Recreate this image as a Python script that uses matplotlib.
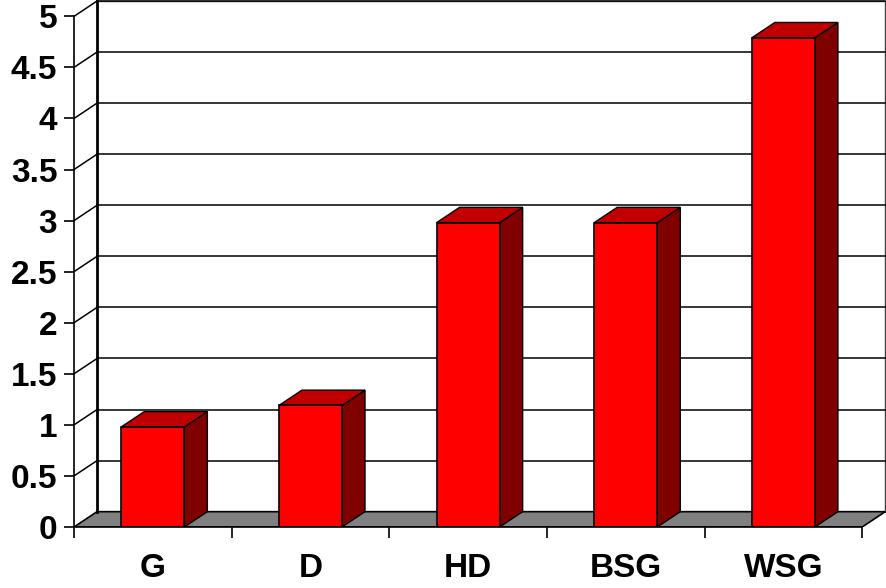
import matplotlib
matplotlib.use("Agg")
import matplotlib.pyplot as plt
from matplotlib.patches import Polygon

plt.rcParams['font.family'] = ['Liberation Sans', 'DejaVu Sans']

# data
categories = ["G", "D", "HD", "BSG", "WSG"]
values = [0.98, 1.19, 2.98, 2.98, 4.79]
y_ticks = [0, 0.5, 1, 1.5, 2, 2.5, 3, 3.5, 4, 4.5, 5]
y_labels = ["0", "0.5", "1", "1.5", "2", "2.5", "3", "3.5", "4", "4.5", "5"]

# depth offsets for the fake 3D look (data units)
DX = 0.146
DY = 0.15
n = len(categories)
ymax = 5
bar_w = 0.4

fig = plt.figure(figsize=(8.87, 5.88), dpi=100)
ax = fig.add_axes([74 / 887, 61 / 588, 812 / 887, 527 / 588])
ax.set_xlim(0, n + DX + 0.005)
ax.set_ylim(0, ymax + DY + 0.01)

# back wall
ax.add_patch(Polygon([(DX, DY), (n + DX, DY), (n + DX, ymax + DY), (DX, ymax + DY)],
                     closed=True, facecolor="white", edgecolor="none", zorder=0))
ax.plot([n + DX, n + DX], [DY, ymax + DY], color="#404040", lw=1, zorder=1, clip_on=False)
ax.plot([DX, n + DX], [ymax + DY, ymax + DY], color="#404040", lw=1, zorder=1, clip_on=False)
ax.plot([DX, DX], [DY, ymax + DY], color="black", lw=2, zorder=3, clip_on=False)

# gridlines on back wall + left wall
for v in y_ticks[1:]:
    ax.plot([DX, n + DX], [v + DY, v + DY], color="black", lw=1.1, zorder=1, clip_on=False)
    ax.plot([0, DX], [v, v + DY], color="black", lw=1.1, zorder=1, clip_on=False)

# floor
ax.add_patch(Polygon([(0, 0), (n, 0), (n + DX, DY), (DX, DY)], closed=True,
                     facecolor="#808080", edgecolor="black", lw=1.2, zorder=2))

# bars
for i, v in enumerate(values):
    c = i + 0.5
    x0, x1 = c - bar_w / 2, c + bar_w / 2
    side = [(x1, 0), (x1 + DX, DY), (x1 + DX, v + DY), (x1, v)]
    top = [(x0, v), (x1, v), (x1 + DX, v + DY), (x0 + DX, v + DY)]
    front = [(x0, 0), (x1, 0), (x1, v), (x0, v)]
    ax.add_patch(Polygon(side, closed=True, facecolor="#800000", edgecolor="black", lw=1, zorder=4))
    ax.add_patch(Polygon(top, closed=True, facecolor="#C00000", edgecolor="black", lw=1, zorder=4))
    ax.add_patch(Polygon(front, closed=True, facecolor="#FF0000", edgecolor="black", lw=1.2, zorder=5))

# axes
for s in ["top", "right"]:
    ax.spines[s].set_visible(False)
ax.spines["left"].set_bounds(0, ymax)
ax.spines["bottom"].set_bounds(0, n)
ax.spines["left"].set_linewidth(1.2)
ax.spines["bottom"].set_linewidth(1.2)
ax.spines["left"].set_zorder(6)
ax.spines["bottom"].set_zorder(6)

ax.set_yticks(y_ticks)
ax.set_yticklabels(y_labels, fontsize=24, fontweight="bold")
ax.tick_params(axis="y", length=7, width=1.2, pad=5)

ax.set_xticks(range(n + 1))
ax.set_xticklabels([])
ax.set_xticks([i + 0.5 for i in range(n)], minor=True)
ax.set_xticklabels(categories, minor=True, fontsize=24, fontweight="bold")
ax.tick_params(axis="x", which="major", length=8, width=1.2)
ax.tick_params(axis="x", which="minor", length=0, pad=19)

ax.set_facecolor("none")
fig.savefig("out.png", dpi=100)
